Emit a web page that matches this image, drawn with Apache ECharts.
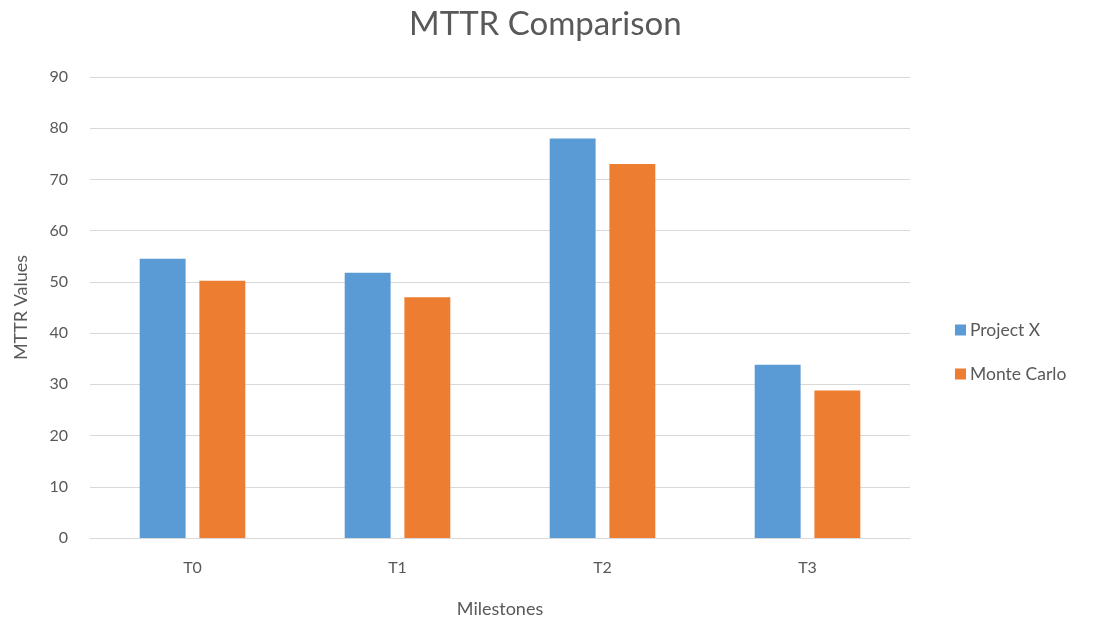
<!DOCTYPE html>
<html>
<head>
<meta charset="utf-8">
<title>MTTR Comparison</title>
<script src="https://cdn.jsdelivr.net/npm/echarts@6/dist/echarts.min.js"></script>
<style>
  html, body { margin: 0; padding: 0; background: #fff; }
  #chart { width: 1105px; height: 623px; }
</style>
</head>
<body>
<div id="chart"></div>
<script>
// Milestones along the x axis
const milestones = ['T0', 'T1', 'T2', 'T3'];
// MTTR values per milestone
const projectX = [54.5, 51.8, 78.0, 33.8];
const monteCarlo = [50.2, 47.0, 73.0, 28.8];

const FONT = 'Lato, "Open Sans", sans-serif';
const TEXT = '#595959';

const chart = echarts.init(document.getElementById('chart'), null, { renderer: 'canvas' });
chart.setOption({
  animation: false,
  title: {
    text: 'MTTR Comparison',
    left: 404,
    top: 3,
    textStyle: { fontFamily: FONT, fontSize: 33, fontWeight: 'normal', color: TEXT }
  },
  legend: {
    orient: 'vertical',
    left: 950,
    top: 316,
    itemWidth: 11,
    itemHeight: 11,
    itemGap: 26,
    icon: 'rect',
    textStyle: { fontFamily: FONT, fontSize: 17.5, color: TEXT, padding: [0, 0, 0, -1] },
    data: ['Project X', 'Monte Carlo']
  },
  grid: { left: 90, right: 195, top: 77, bottom: 85 },
  xAxis: {
    type: 'category',
    data: milestones,
    name: 'Milestones',
    nameLocation: 'middle',
    nameGap: 62,
    nameTextStyle: { fontFamily: FONT, fontSize: 18, color: TEXT },
    axisLine: { lineStyle: { color: '#D9D9D9', width: 1 } },
    axisTick: { show: false },
    axisLabel: { fontFamily: FONT, fontSize: 16, color: TEXT, margin: 22 }
  },
  yAxis: {
    type: 'value',
    min: 0,
    max: 90,
    interval: 10,
    name: 'MTTR Values',
    nameLocation: 'middle',
    nameGap: 60,
    nameTextStyle: { fontFamily: FONT, fontSize: 18, color: TEXT },
    axisLine: { show: false },
    axisTick: { show: false },
    axisLabel: { fontFamily: FONT, fontSize: 16, color: TEXT, margin: 22 },
    splitLine: { lineStyle: { color: '#D9D9D9', width: 1 } }
  },
  series: [
    {
      name: 'Project X',
      type: 'bar',
      data: projectX,
      barWidth: '22.4%',
      barGap: '30%',
      itemStyle: { color: '#5B9BD5' }
    },
    {
      name: 'Monte Carlo',
      type: 'bar',
      data: monteCarlo,
      barWidth: '22.4%',
      itemStyle: { color: '#ED7D31' }
    }
  ]
});
</script>
</body>
</html>
